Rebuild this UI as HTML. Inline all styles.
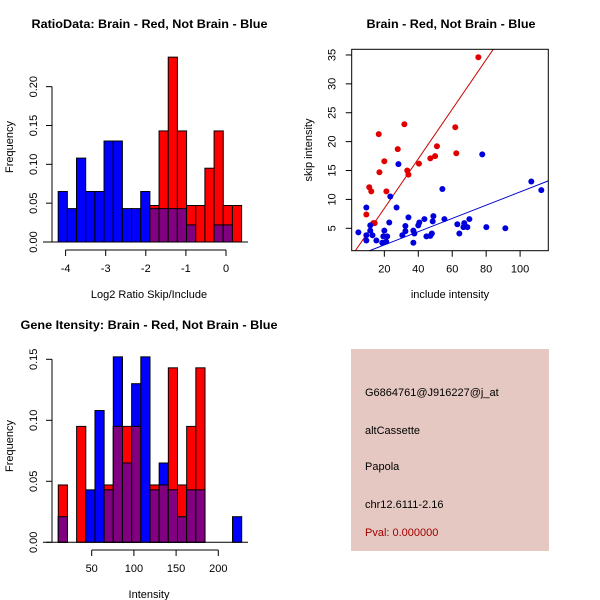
<!DOCTYPE html>
<html><head><meta charset="utf-8"><style>
body{margin:0;background:#fff}
svg{display:block;font-family:"Liberation Sans",sans-serif}
</style></head><body>
<svg id="c" width="600" height="600" viewBox="0 0 600 600">
<text x="149.5" y="28" font-size="12" font-weight="bold" text-anchor="middle" textLength="236" lengthAdjust="spacingAndGlyphs">RatioData: Brain - Red, Not Brain - Blue</text>
<text x="451" y="28" font-size="12" font-weight="bold" text-anchor="middle" textLength="169" lengthAdjust="spacingAndGlyphs">Brain - Red, Not Brain - Blue</text>
<text x="149" y="329" font-size="12" font-weight="bold" text-anchor="middle" textLength="257" lengthAdjust="spacingAndGlyphs">Gene Itensity: Brain - Red, Not Brain - Blue</text>
<g>
<rect x="351" y="349" width="198" height="202" fill="#e5c8c1"/>
<text x="365" y="396" font-size="11">G6864761@J916227@j_at</text>
<text x="365" y="434" font-size="11">altCassette</text>
<text x="365" y="470" font-size="11">Papola</text>
<text x="365" y="508" font-size="11">chr12.6111-2.16</text>
<text x="365" y="536" font-size="11" fill="#a00000">Pval: 0.000000</text>
</g>
</svg>
<script>
// Ratio histogram data
const ratioStart = -4.185;
const ratioBinWidth = 0.2287;
const ratioBlue = [0.065,0.043,0.108,0.065,0.065,0.13,0.13,0.043,0.043,0.065,0.043,0.043,0.043,0.043,0.022,0,0,0.022,0.022,0];
const ratioRed  = [0,0,0,0,0,0,0,0,0,0,0.047,0.143,0.238,0.143,0.047,0.047,0.095,0.143,0.047,0.047];
const ratioXTicks = [-4,-3,-2,-1,0];
const ratioYTicks = [0,0.05,0.10,0.15,0.20];
const ratioYLabels = ["0.00","0.05","0.10","0.15","0.20"];
// Intensity histogram data
const intStart = 10.4;
const intBinWidth = 10.866;
const intBlue = [0.021,0,0,0.043,0.108,0.043,0.152,0.065,0.13,0.152,0.043,0.065,0.043,0.021,0.043,0.043,0,0,0,0.021];
const intRed  = [0.047,0,0.095,0,0,0.047,0.095,0.095,0.095,0,0.047,0.047,0.143,0.047,0.095,0.143,0,0,0,0];
const intXTicks = [50,100,150,200];
const intYTicks = [0,0.05,0.10,0.15];
const intYLabels = ["0.00","0.05","0.10","0.15"];
// Scatter data
const redX = [75.4,31.8,61.8,16.7,51.0,27.9,62.4,49.9,47.1,20.0,40.4,33.5,34.2,17.1,11.1,12.3,21.2,9.4,13.5,14.3];
const redY = [34.6,23.0,22.5,21.3,19.2,18.7,18.0,17.5,17.1,16.6,16.2,15.0,14.3,14.7,12.1,11.4,11.4,7.4,5.9,5.9];
const blueX = [77.7,28.3,106.6,112.5,54.2,23.5,9.4,27.2,48.9,34.2,70.1,55.4,43.6,48.5,22.9,40.6,40.0,32.4,11.7,63.0,67.1,80.1,91.3,68.9,66.6,4.7,32.4,37.1,20.0,48.0,64.2,9.4,13.0,37.7,30.6,47.1,44.8,9.4,15.3,19.4,21.7,18.8,21.1,37.1,11.7];
const blueY = [17.8,16.1,13.1,11.6,11.8,10.5,8.6,8.6,7.1,6.9,6.6,6.6,6.6,6.2,6.0,6.0,5.5,5.4,5.5,5.7,5.9,5.2,5.0,5.2,5.2,4.3,4.5,4.6,4.6,4.1,4.1,3.8,3.8,4.1,3.8,3.7,3.6,2.9,2.9,3.6,3.6,2.5,2.7,2.5,4.6];
const redFit = [-0.13, 0.429];
const blueFit = [-0.17, 0.1147];
const scXTicks = [20,40,60,80,100];
const scYTicks = [5,10,15,20,25,30,35];

const svg = document.getElementById('c');
const NS = 'http://www.w3.org/2000/svg';
function mk(tag, attrs, parent){const e=document.createElementNS(NS,tag);for(const k in attrs)e.setAttribute(k,attrs[k]);(parent||svg).appendChild(e);return e;}
function txt(x,y,s,size,rot,anchor){const t=mk('text',{x:x,y:y,'font-size':size,'text-anchor':anchor||'middle'});if(rot)t.setAttribute('transform','rotate(-90 '+x+' '+y+')');t.textContent=s;return t;}

function hist(opts){
  const g = mk('g',{});
  
  
  const sx = v => opts.x0 + v*opts.xs;
  const sy = v => opts.y0 - v*opts.ys;
  for(let i=0;i<opts.blue.length;i++){
    const a = sx(opts.start+i*opts.bw), b = sx(opts.start+(i+1)*opts.bw);
    const bl = opts.blue[i], rd = opts.red[i], m = Math.min(bl,rd);
    if(bl>0){const r=mk('rect',{x:a,y:sy(bl),width:b-a,height:sy(0)-sy(bl),fill:'#0000ff',stroke:'#000','stroke-width':1},g);
      
      }
    if(rd>0){const r=mk('rect',{x:a,y:sy(rd),width:b-a,height:sy(0)-sy(rd),fill:'#ff0000',stroke:'#000','stroke-width':1},g);
      
      }
    if(m>0){const r=mk('rect',{x:a,y:sy(m),width:b-a,height:sy(0)-sy(m),fill:'#800080',stroke:'#000','stroke-width':1},g);
      
      }
  }
  mk('line',{x1:43,x2:248,y1:sy(0),y2:sy(0),stroke:'#000'},g);
  const xa = mk('g',{},g);
  
  
  const xt=opts.xticks;
  mk('line',{x1:sx(xt[0]),x2:sx(xt[xt.length-1]),y1:opts.axY,y2:opts.axY,stroke:'#000'},xa);
  xt.forEach(v=>{mk('line',{x1:sx(v),x2:sx(v),y1:opts.axY,y2:opts.axY+6,stroke:'#000'},xa);xa.appendChild(txt(sx(v),opts.axY+22,String(v),11,false));});
  const ya = mk('g',{},g);
  
  
  const yt=opts.yticks;
  mk('line',{x1:opts.axX,x2:opts.axX,y1:sy(yt[0]),y2:sy(yt[yt.length-1]),stroke:'#000'},ya);
  yt.forEach((v,i)=>{mk('line',{x1:opts.axX-6,x2:opts.axX,y1:sy(v),y2:sy(v),stroke:'#000'},ya);ya.appendChild(txt(opts.axX-15,sy(v),opts.ylabels[i],11,true));});
  const yl=txt(13,opts.ylabY,'Frequency',11,true);
  
  
  const xl=txt(149,opts.xlabY,opts.xlab,11,false);
  
  
}
hist({name:'ratio-histogram',x0:226,xs:40.1,y0:242,ys:776.7,start:ratioStart,bw:ratioBinWidth,blue:ratioBlue,red:ratioRed,xticks:ratioXTicks,yticks:ratioYTicks,ylabels:ratioYLabels,axY:250,axX:52,ylabY:147,xlabY:298,xlab:'Log2 Ratio Skip/Include'});
hist({name:'intensity-histogram',x0:49.5,xs:0.844,y0:542.3,ys:1220,start:intStart,bw:intBinWidth,blue:intBlue,red:intRed,xticks:intXTicks,yticks:intYTicks,ylabels:intYLabels,axY:550,axX:52,ylabY:446,xlabY:598,xlab:'Intensity'});

// Scatter
(function(){
  const g = mk('g',{});
  
  
  const L=351.7,R=548.3,T=49.3,B=250.7;
  const sx=v=>350.4+v*1.697, sy=v=>257.2-v*5.778;
  const cp=mk('clipPath',{id:'clp'},g);mk('rect',{x:L,y:T,width:R-L,height:B-T},cp);
  const pts=mk('g',{'clip-path':'url(#clp)'},g);
  [[redFit,'#cc0000','red-fit-line'],[blueFit,'#0000cc','blue-fit-line']].forEach(f=>{
    const x1=0,x2=130;
    const l=mk('line',{x1:sx(x1),x2:sx(x2),y1:sy(f[0][0]+f[0][1]*x1),y2:sy(f[0][0]+f[0][1]*x2),stroke:f[1],'stroke-width':1},pts);
    
    
  });
  redX.forEach((x,i)=>{const c=mk('circle',{cx:sx(x),cy:sy(redY[i]),r:3,fill:'#e00000'},pts);
    
    });
  blueX.forEach((x,i)=>{const c=mk('circle',{cx:sx(x),cy:sy(blueY[i]),r:3,fill:'#0000dd'},pts);
    
    });
  mk('rect',{x:L,y:T,width:R-L,height:B-T,fill:'none',stroke:'#000'},g);
  const xa=mk('g',{},g);
  
  
  scXTicks.forEach(v=>{mk('line',{x1:sx(v),x2:sx(v),y1:B,y2:B+6,stroke:'#000'},xa);xa.appendChild(txt(sx(v),B+22,String(v),11,false));});
  const ya=mk('g',{},g);
  
  
  scYTicks.forEach(v=>{mk('line',{x1:L-6,x2:L,y1:sy(v),y2:sy(v),stroke:'#000'},ya);ya.appendChild(txt(L-16,sy(v),String(v),11,true));});
  const xl=txt(450,298,'include intensity',11,false);
  
  
  const yl=txt(312,150,'skip intensity',11,true);
  
  
})();
</script>
</body></html>
